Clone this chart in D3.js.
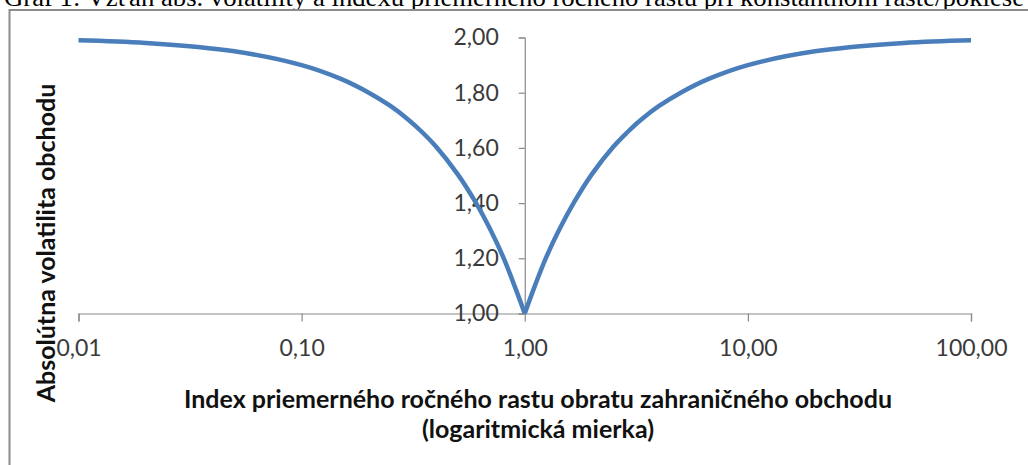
<!DOCTYPE html>
<html>
<head>
<meta charset="utf-8">
<script src="https://cdn.jsdelivr.net/npm/d3@7/dist/d3.min.js"></script>
<style>
  body { margin: 0; background: #fff; overflow: hidden; }
  svg { display: block; }
</style>
</head>
<body>
<script>
// values (index vs. absolute volatility)
var indexValues = [0.01, 0.02, 0.05, 0.1, 0.15, 0.2, 0.25, 0.3, 0.35, 0.4, 0.5, 0.6, 0.7, 0.8, 0.9, 1,
                   1.11, 1.25, 1.43, 1.67, 2, 2.5, 2.86, 3.33, 4, 5, 6.67, 10, 20, 50, 100];
var volatility  = [1.99, 1.98, 1.95, 1.90, 1.85, 1.80, 1.752, 1.703, 1.654, 1.605, 1.505, 1.405, 1.305, 1.205, 1.10, 1.00,
                   1.10, 1.205, 1.305, 1.405, 1.505, 1.605, 1.654, 1.703, 1.752, 1.80, 1.85, 1.90, 1.95, 1.98, 1.99];
var xTicks = [0.01, 0.1, 1, 10, 100];
var yTicks = [1.0, 1.2, 1.4, 1.6, 1.8, 2.0];

var titleText = "Graf 1: Vzťah abs. volatility a indexu priemerného ročného rastu pri konštantnom raste/poklese";
var xTitle1 = "Index priemerného ročného rastu obratu zahraničného obchodu";
var xTitle2 = "(logaritmická mierka)";
var yTitle = "Absolútna volatilita obchodu";

var width = 1028, height = 465;
var fmt = function(v){ return d3.format(".2f")(v).replace(".", ","); };

var svg = d3.select("body").append("svg")
  .attr("width", width)
  .attr("height", height);

// caption, cut off at the top of the picture like in the source
svg.append("text")
  .attr("x", 4)
  .attr("y", 6)
  .attr("textLength", 1020)
  .attr("lengthAdjust", "spacingAndGlyphs")
  .style("font-family", "'Liberation Serif', 'Times New Roman', serif")
  .style("font-size", "25px")
  .style("fill", "#000")
  .text(titleText);

// chart frame (runs past the right and bottom edges)
svg.append("rect")
  .attr("x", 9.5)
  .attr("y", 10)
  .attr("width", 1100)
  .attr("height", 500)
  .style("fill", "#fff")
  .style("stroke", "#8c8c8c")
  .style("stroke-width", 2);

var x = d3.scaleLog().domain([0.01, 100]).range([78.5, 971]);
var y = d3.scaleLinear().domain([1, 2]).range([313.5, 37.5]);

var labelFont = "Lato, 'Open Sans', sans-serif";

// x axis at y = 1
var xAxis = svg.append("g")
  .attr("transform", "translate(0," + y(1) + ")")
  .call(d3.axisBottom(x).tickValues(xTicks).tickFormat(fmt).tickSize(8).tickPadding(18));
xAxis.select(".domain").style("stroke", "#898989").style("stroke-width", 1.2);
xAxis.selectAll(".tick line").style("stroke", "#898989").style("stroke-width", 1.2);
xAxis.selectAll(".tick text")
  .style("font-family", labelFont)
  .style("font-size", "23px")
  .style("fill", "#3a3a3a");

// y axis at x = 1
var yAxis = svg.append("g")
  .attr("transform", "translate(" + x(1) + ",0)")
  .call(d3.axisLeft(y).tickValues(yTicks).tickFormat(fmt).tickSize(6).tickPadding(20));
yAxis.select(".domain").style("stroke", "#898989").style("stroke-width", 1.2);
yAxis.selectAll(".tick line").style("stroke", "#898989").style("stroke-width", 1.2);
yAxis.selectAll(".tick text")
  .style("font-family", labelFont)
  .style("font-size", "23px")
  .style("fill", "#3a3a3a");

// curve, drawn in two halves so the dip at 1,00 stays sharp
var pts = indexValues.map(function(d, i){ return [d, volatility[i]]; });
var left = pts.filter(function(p){ return p[0] <= 1; });
var right = pts.filter(function(p){ return p[0] >= 1; });

var line = d3.line()
  .x(function(p){ return x(p[0]); })
  .y(function(p){ return y(p[1]); })
  .curve(d3.curveCatmullRom.alpha(0.5));

[left, right].map(function(seg){
  svg.append("path")
    .attr("d", line(seg))
    .style("fill", "none")
    .style("stroke", "#4a7ebb")
    .style("stroke-width", 4.5)
    .style("stroke-linejoin", "round");
});

// axis titles
svg.append("text")
  .attr("x", 538)
  .attr("y", 408)
  .attr("text-anchor", "middle")
  .style("font-family", labelFont)
  .style("font-weight", "bold")
  .style("font-size", "25px")
  .style("fill", "#111")
  .text(xTitle1);

svg.append("text")
  .attr("x", 538)
  .attr("y", 438)
  .attr("text-anchor", "middle")
  .style("font-family", labelFont)
  .style("font-weight", "bold")
  .style("font-size", "25px")
  .style("fill", "#111")
  .text(xTitle2);

svg.append("text")
  .attr("transform", "translate(55,243) rotate(-90)")
  .attr("text-anchor", "middle")
  .style("font-family", labelFont)
  .style("font-weight", "bold")
  .style("font-size", "25px")
  .style("fill", "#111")
  .text(yTitle);
</script>
</body>
</html>
